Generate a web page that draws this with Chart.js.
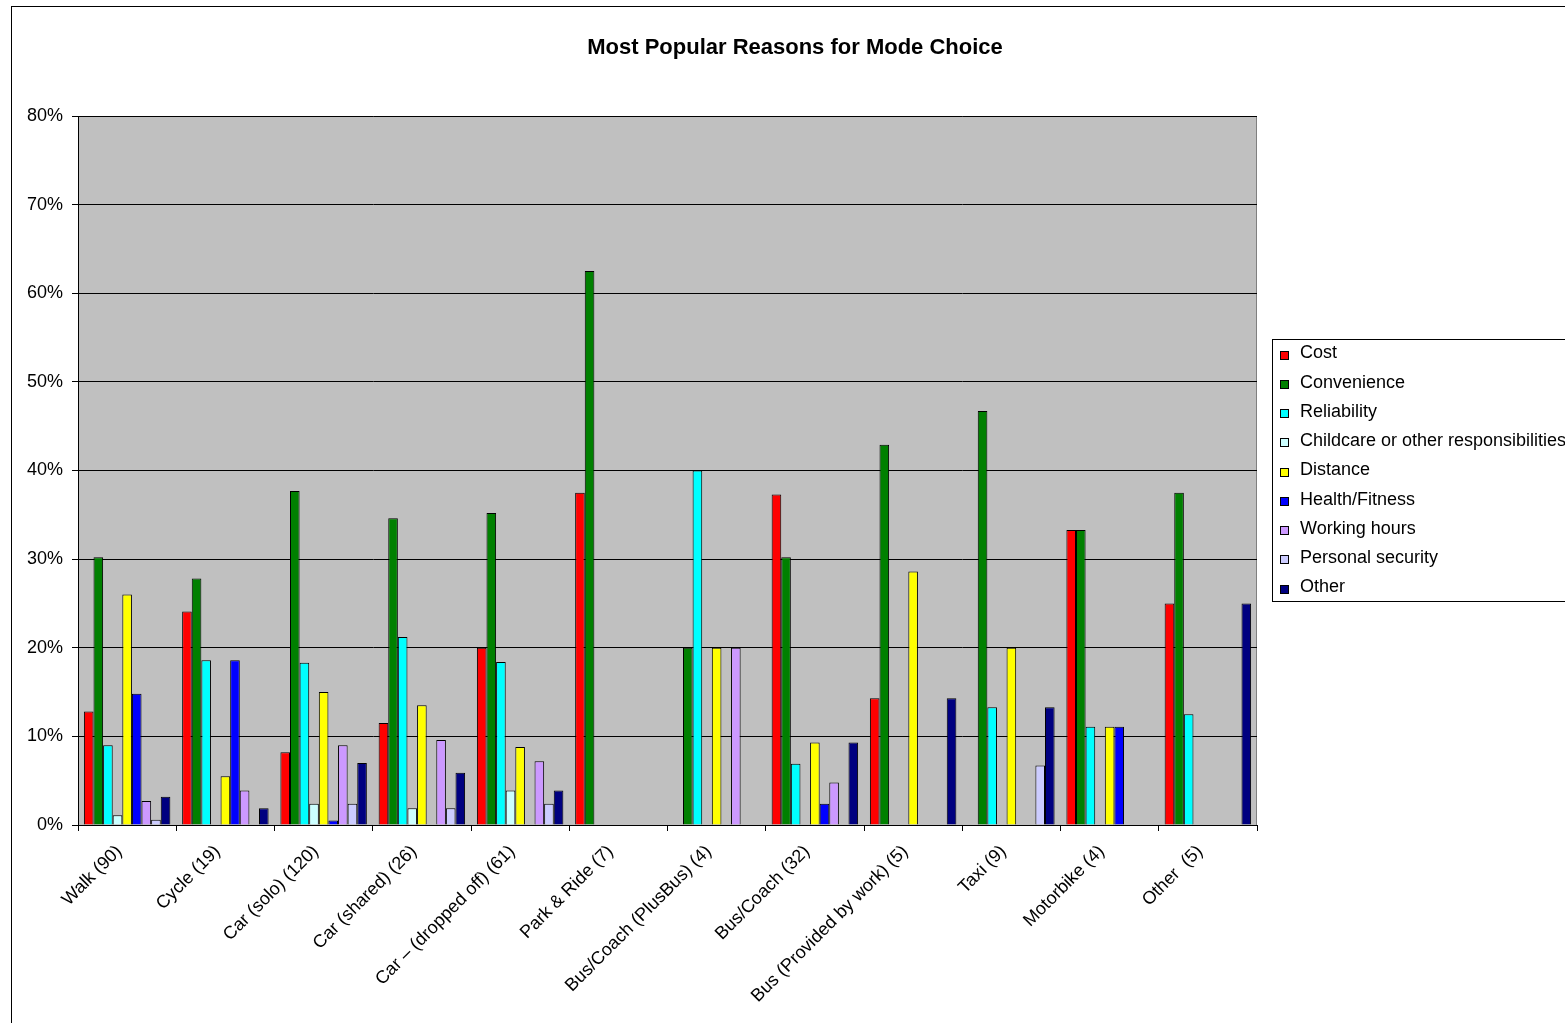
<!DOCTYPE html>
<html>
<head>
<meta charset="utf-8">
<title>Most Popular Reasons for Mode Choice</title>
<script src="https://cdn.jsdelivr.net/npm/chart.js@4/dist/chart.umd.min.js"></script>
<style>
  html, body { margin: 0; padding: 0; background: #ffffff; overflow: hidden; }
  canvas { display: block; }
</style>
</head>
<body>
<canvas id="chart" width="1565" height="1023"></canvas>
<script>
// Travel modes (number of respondents in brackets)
const categories = [
  'Walk (90)', 'Cycle (19)', 'Car (solo) (120)', 'Car (shared) (26)',
  'Car \u2013 (dropped off) (61)', 'Park & Ride (7)', 'Bus/Coach (PlusBus) (4)',
  'Bus/Coach (32)', 'Bus (Provided by work) (5)', 'Taxi (9)', 'Motorbike (4)', 'Other  (5)'
];

// Share of respondents giving each reason, in percent (null = not mentioned)
const cost             = [12.8, 24.1,  8.2, 11.5, 20.0, 37.5, null, 37.3, 14.3, null, 33.3, 25.0];
const convenience      = [30.2, 27.8, 37.7, 34.6, 35.2, 62.5, 20.0, 30.2, 42.9, 46.7, 33.3, 37.5];
const reliability      = [ 9.0, 18.6, 18.3, 21.2, 18.4, null, 40.0,  6.9, null, 13.3, 11.1, 12.5];
const childcare        = [ 1.1, null,  2.4,  1.9,  3.9, null, null, null, null, null, null, null];
const distance         = [26.0,  5.5, 15.0, 13.5,  8.8, null, 20.0,  9.3, 28.6, 20.0, 11.1, null];
const healthFitness    = [14.8, 18.6,  0.5, null, null, null, null,  2.4, null, null, 11.1, null];
const workingHours     = [ 2.7,  3.9,  9.0,  9.6,  7.2, null, 20.0,  4.8, null, null, null, null];
const personalSecurity = [ 0.6, null,  2.4,  1.9,  2.4, null, null, null, null,  6.7, null, null];
const otherReason      = [ 3.2,  1.9,  7.0,  5.9,  3.9, null, null,  9.3, 14.3, 13.3, null, 25.0];

const seriesNames = [
  'Cost', 'Convenience', 'Reliability', 'Childcare or other responsibilities',
  'Distance', 'Health/Fitness', 'Working hours', 'Personal security', 'Other'
];
const seriesValues = [
  cost, convenience, reliability, childcare, distance,
  healthFitness, workingHours, personalSecurity, otherReason
];
const seriesColors = [
  '#FF0000', '#008000', '#00FFFF', '#CCFFFF', '#FFFF00',
  '#0000FF', '#CC99FF', '#CCCCFF', '#000080'
];

const yTicks = [0, 10, 20, 30, 40, 50, 60, 70, 80];

const FONT = '"Liberation Sans", Arial, Helvetica, sans-serif';
const chartTitle = 'Most Popular Reasons for Mode Choice';

// Grey plot area, outer frame, title and boxed legend
const frame = {
  id: 'frame',
  beforeDraw(chart) {
    const { ctx, chartArea: a } = chart;
    ctx.save();
    ctx.fillStyle = '#ffffff';
    ctx.fillRect(0, 0, chart.width, chart.height);
    ctx.fillStyle = '#C0C0C0';
    ctx.fillRect(a.left, a.top, a.right - a.left, a.bottom - a.top);
    ctx.strokeStyle = '#808080';
    ctx.lineWidth = 1;
    ctx.strokeRect(Math.round(a.left) + 0.5, Math.round(a.top) + 0.5,
                   Math.round(a.right - a.left) - 1, Math.round(a.bottom - a.top));
    // outer chart border
    ctx.strokeStyle = '#000000';
    ctx.strokeRect(11.5, 6.5, chart.width + 20, chart.height + 20);
    ctx.restore();
  },
  afterDraw(chart) {
    const { ctx } = chart;
    ctx.save();
    ctx.fillStyle = '#000000';
    ctx.font = 'bold 22px ' + FONT;
    ctx.textAlign = 'center';
    ctx.textBaseline = 'middle';
    ctx.fillText(chartTitle, 795, 48);

    // legend
    ctx.fillStyle = '#ffffff';
    ctx.fillRect(1272, 339, 400, 262);
    ctx.strokeStyle = '#000000';
    ctx.lineWidth = 1;
    ctx.strokeRect(1272.5, 339.5, 400, 262);
    ctx.font = '18px ' + FONT;
    ctx.textAlign = 'left';
    chart.data.datasets.forEach((ds, i) => {
      const y = 353.5 + i * 29.25;
      ctx.fillStyle = ds.backgroundColor;
      ctx.fillRect(1280, Math.round(y) - 3, 9, 9);
      ctx.strokeStyle = '#000000';
      ctx.strokeRect(1280.5, Math.round(y) - 2.5, 8, 8);
      ctx.fillStyle = '#000000';
      ctx.fillText(ds.label, 1300, y);
    });
    ctx.restore();
  }
};

new Chart(document.getElementById('chart'), {
  type: 'bar',
  data: {
    labels: categories,
    datasets: seriesNames.map((name, i) => ({
      label: name,
      data: seriesValues[i],
      backgroundColor: seriesColors[i],
      borderColor: '#000000',
      borderWidth: 1,
      borderSkipped: 'bottom',
      categoryPercentage: 0.88,
      barPercentage: 1.0
    }))
  },
  options: {
    responsive: false,
    animation: false,
    devicePixelRatio: 1,
    layout: { padding: { top: 116, right: 308, bottom: 0, left: 0 } },
    plugins: {
      legend: { display: false },
      title: { display: false },
      tooltip: { enabled: false }
    },
    scales: {
      x: {
        offset: true,
        grid: {
          offset: true,
          drawOnChartArea: false,
          drawTicks: true,
          tickLength: 6,
          color: '#000000'
        },
        border: { display: true, color: '#000000' },
        ticks: {
          autoSkip: false,
          minRotation: 45,
          maxRotation: 45,
          padding: 10,
          labelOffset: -8,
          color: '#000000',
          font: { family: FONT, size: 18 }
        },
        afterFit(scale) { scale.height = 198; }
      },
      y: {
        min: 0,
        max: 80,
        afterBuildTicks(scale) { scale.ticks = yTicks.map(v => ({ value: v })); },
        grid: {
          color: '#000000',
          lineWidth: 1,
          drawTicks: true,
          tickLength: 6
        },
        border: { display: true, color: '#000000' },
        ticks: {
          padding: 9,
          color: '#000000',
          font: { family: FONT, size: 18 },
          callback: v => v + '%'
        },
        afterFit(scale) { scale.width = 78; }
      }
    }
  },
  plugins: [frame]
});
</script>
</body>
</html>
